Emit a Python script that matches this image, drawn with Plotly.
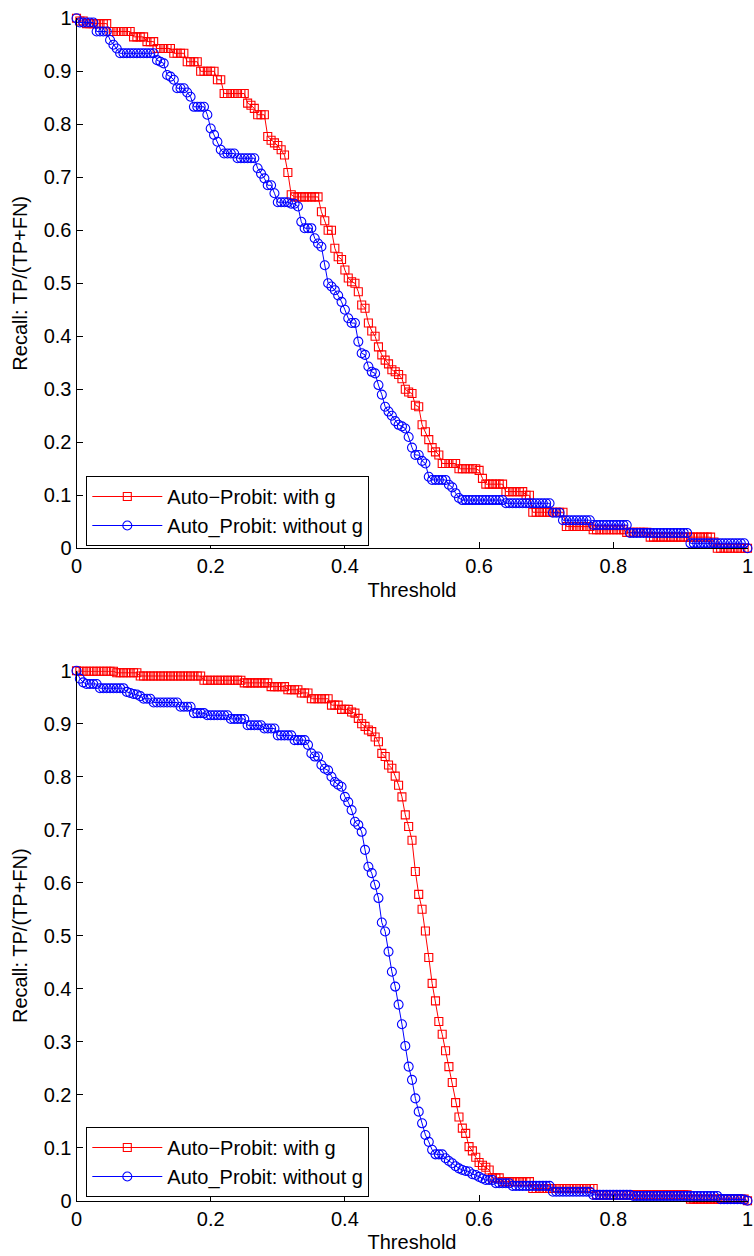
import plotly.graph_objects as go

# ---------------- data ----------------
THRESHOLD = [
    0.000, 0.005, 0.010, 0.015, 0.020, 0.025, 0.030, 0.035, 0.040, 0.045,
    0.050, 0.055, 0.060, 0.065, 0.070, 0.075, 0.080, 0.085, 0.090, 0.095,
    0.100, 0.105, 0.110, 0.115, 0.120, 0.125, 0.130, 0.135, 0.140, 0.145,
    0.150, 0.155, 0.160, 0.165, 0.170, 0.175, 0.180, 0.185, 0.190, 0.195,
    0.200, 0.205, 0.210, 0.215, 0.220, 0.225, 0.230, 0.235, 0.240, 0.245,
    0.250, 0.255, 0.260, 0.265, 0.270, 0.275, 0.280, 0.285, 0.290, 0.295,
    0.300, 0.305, 0.310, 0.315, 0.320, 0.325, 0.330, 0.335, 0.340, 0.345,
    0.350, 0.355, 0.360, 0.365, 0.370, 0.375, 0.380, 0.385, 0.390, 0.395,
    0.400, 0.405, 0.410, 0.415, 0.420, 0.425, 0.430, 0.435, 0.440, 0.445,
    0.450, 0.455, 0.460, 0.465, 0.470, 0.475, 0.480, 0.485, 0.490, 0.495,
    0.500, 0.505, 0.510, 0.515, 0.520, 0.525, 0.530, 0.535, 0.540, 0.545,
    0.550, 0.555, 0.560, 0.565, 0.570, 0.575, 0.580, 0.585, 0.590, 0.595,
    0.600, 0.605, 0.610, 0.615, 0.620, 0.625, 0.630, 0.635, 0.640, 0.645,
    0.650, 0.655, 0.660, 0.665, 0.670, 0.675, 0.680, 0.685, 0.690, 0.695,
    0.700, 0.705, 0.710, 0.715, 0.720, 0.725, 0.730, 0.735, 0.740, 0.745,
    0.750, 0.755, 0.760, 0.765, 0.770, 0.775, 0.780, 0.785, 0.790, 0.795,
    0.800, 0.805, 0.810, 0.815, 0.820, 0.825, 0.830, 0.835, 0.840, 0.845,
    0.850, 0.855, 0.860, 0.865, 0.870, 0.875, 0.880, 0.885, 0.890, 0.895,
    0.900, 0.905, 0.910, 0.915, 0.920, 0.925, 0.930, 0.935, 0.940, 0.945,
    0.950, 0.955, 0.960, 0.965, 0.970, 0.975, 0.980, 0.985, 0.990, 0.995,
    1.000,
]

# Top panel, "Auto-Probit: with g"
TOP_WITH_G = [
    1.0, 0.995, 0.995, 0.99, 0.99, 0.99, 0.99, 0.99, 0.99, 0.99,
    0.975, 0.975, 0.975, 0.975, 0.975, 0.975, 0.975, 0.965, 0.965, 0.965,
    0.965, 0.956, 0.956, 0.956, 0.943, 0.943, 0.943, 0.943, 0.943, 0.934,
    0.934, 0.934, 0.934, 0.918, 0.918, 0.918, 0.918, 0.90, 0.90, 0.90,
    0.90, 0.90, 0.884, 0.884, 0.858, 0.858, 0.858, 0.858, 0.858, 0.858,
    0.858, 0.84, 0.836, 0.83, 0.818, 0.818, 0.818, 0.777, 0.770, 0.765,
    0.760, 0.752, 0.742, 0.709, 0.667, 0.663, 0.663, 0.663, 0.663, 0.663,
    0.663, 0.663, 0.663, 0.635, 0.618, 0.60, 0.60, 0.566, 0.55, 0.545,
    0.525, 0.51, 0.503, 0.50, 0.484, 0.459, 0.453, 0.425, 0.41, 0.40,
    0.38, 0.365, 0.355, 0.348, 0.337, 0.333, 0.328, 0.32, 0.30, 0.295,
    0.292, 0.27, 0.267, 0.233, 0.22, 0.205, 0.19, 0.182, 0.176, 0.16,
    0.16, 0.16, 0.16, 0.16, 0.15, 0.15, 0.15, 0.15, 0.15, 0.15,
    0.147, 0.132, 0.121, 0.121, 0.121, 0.121, 0.121, 0.121, 0.107, 0.107,
    0.107, 0.107, 0.107, 0.107, 0.10, 0.10, 0.068, 0.068, 0.068, 0.068,
    0.068, 0.068, 0.068, 0.068, 0.068, 0.068, 0.041, 0.041, 0.041, 0.041,
    0.041, 0.041, 0.041, 0.041, 0.035, 0.035, 0.035, 0.035, 0.035, 0.035,
    0.035, 0.035, 0.035, 0.035, 0.03, 0.03, 0.03, 0.03, 0.03, 0.03,
    0.03, 0.021, 0.021, 0.021, 0.021, 0.021, 0.021, 0.021, 0.021, 0.021,
    0.021, 0.021, 0.021, 0.021, 0.021, 0.021, 0.021, 0.021, 0.021, 0.021,
    0.012, 0.0, 0.0, 0.0, 0.0, 0.0, 0.0, 0.0, 0.0, 0.0,
    0.0,
]

# Top panel, "Auto_Probit: without g"
TOP_WITHOUT_G = [
    1.0, 0.992, 0.992, 0.992, 0.992, 0.992, 0.975, 0.975, 0.975, 0.975,
    0.959, 0.95, 0.943, 0.934, 0.934, 0.934, 0.934, 0.934, 0.934, 0.934,
    0.934, 0.934, 0.934, 0.934, 0.921, 0.918, 0.915, 0.893, 0.89, 0.884,
    0.868, 0.868, 0.868, 0.86, 0.852, 0.833, 0.833, 0.833, 0.833, 0.818,
    0.792, 0.78, 0.767, 0.752, 0.745, 0.745, 0.745, 0.745, 0.736, 0.736,
    0.736, 0.736, 0.736, 0.736, 0.717, 0.707, 0.698, 0.685, 0.685, 0.67,
    0.653, 0.653, 0.653, 0.653, 0.65, 0.65, 0.645, 0.616, 0.604, 0.604,
    0.604, 0.585, 0.575, 0.569, 0.534, 0.50, 0.494, 0.487, 0.477, 0.465,
    0.45, 0.434, 0.425, 0.425, 0.39, 0.368, 0.365, 0.343, 0.333, 0.33,
    0.308, 0.29, 0.267, 0.258, 0.25, 0.24, 0.233, 0.23, 0.226, 0.21,
    0.19, 0.176, 0.176, 0.165, 0.16, 0.135, 0.129, 0.129, 0.129, 0.129,
    0.129, 0.12, 0.115, 0.104, 0.095, 0.091, 0.091, 0.091, 0.091, 0.091,
    0.091, 0.091, 0.091, 0.091, 0.091, 0.091, 0.091, 0.091, 0.085, 0.085,
    0.085, 0.085, 0.085, 0.085, 0.085, 0.085, 0.085, 0.085, 0.085, 0.085,
    0.085, 0.085, 0.067, 0.067, 0.067, 0.053, 0.053, 0.053, 0.053, 0.053,
    0.053, 0.053, 0.053, 0.053, 0.044, 0.044, 0.044, 0.044, 0.044, 0.044,
    0.044, 0.044, 0.044, 0.044, 0.044, 0.029, 0.029, 0.029, 0.029, 0.029,
    0.029, 0.029, 0.029, 0.029, 0.029, 0.029, 0.029, 0.029, 0.029, 0.029,
    0.029, 0.029, 0.029, 0.0094, 0.0094, 0.0094, 0.0094, 0.0094, 0.0094, 0.0094,
    0.0094, 0.0094, 0.0094, 0.0094, 0.0094, 0.0094, 0.0094, 0.0094, 0.0094, 0.0094,
    0.0,
]

# Bottom panel, "Auto-Probit: with g"
BOTTOM_WITH_G = [
    1.0, 0.999, 0.999, 0.999, 0.999, 0.999, 0.999, 0.999, 0.999, 0.999,
    0.999, 0.999, 0.996, 0.996, 0.996, 0.996, 0.996, 0.996, 0.996, 0.99,
    0.99, 0.99, 0.99, 0.99, 0.99, 0.99, 0.99, 0.99, 0.99, 0.99,
    0.99, 0.99, 0.99, 0.99, 0.99, 0.99, 0.99, 0.99, 0.982, 0.982,
    0.982, 0.982, 0.982, 0.982, 0.982, 0.982, 0.982, 0.982, 0.982, 0.982,
    0.977, 0.977, 0.977, 0.977, 0.977, 0.977, 0.977, 0.977, 0.97, 0.97,
    0.97, 0.97, 0.97, 0.964, 0.964, 0.964, 0.964, 0.958, 0.958, 0.958,
    0.947, 0.947, 0.947, 0.947, 0.947, 0.947, 0.935, 0.935, 0.935, 0.927,
    0.927, 0.927, 0.922, 0.92, 0.91, 0.90, 0.895, 0.888, 0.885, 0.875,
    0.866, 0.844, 0.838, 0.822, 0.816, 0.801, 0.784, 0.762, 0.728, 0.706,
    0.68, 0.621, 0.578, 0.55, 0.509, 0.459, 0.41, 0.377, 0.338, 0.314,
    0.283, 0.253, 0.223, 0.185, 0.158, 0.137, 0.127, 0.102, 0.094, 0.082,
    0.072, 0.067, 0.063, 0.058, 0.043, 0.043, 0.043, 0.036, 0.036, 0.036,
    0.036, 0.036, 0.036, 0.036, 0.036, 0.036, 0.023, 0.023, 0.023, 0.023,
    0.023, 0.023, 0.023, 0.023, 0.023, 0.023, 0.023, 0.023, 0.023, 0.023,
    0.023, 0.023, 0.023, 0.023, 0.023, 0.011, 0.011, 0.011, 0.011, 0.011,
    0.011, 0.011, 0.011, 0.011, 0.011, 0.011, 0.011, 0.011, 0.011, 0.011,
    0.011, 0.011, 0.011, 0.011, 0.011, 0.011, 0.011, 0.011, 0.011, 0.011,
    0.011, 0.011, 0.011, 0.003, 0.003, 0.003, 0.003, 0.003, 0.003, 0.003,
    0.003, 0.003, 0.003, 0.003, 0.003, 0.003, 0.003, 0.003, 0.003, 0.003,
    0.0,
]

# Bottom panel, "Auto_Probit: without g"
BOTTOM_WITHOUT_G = [
    1.0, 0.985, 0.978, 0.975, 0.975, 0.975, 0.975, 0.967, 0.967, 0.967,
    0.967, 0.967, 0.967, 0.967, 0.967, 0.96, 0.958, 0.956, 0.955, 0.952,
    0.947, 0.947, 0.947, 0.94, 0.94, 0.94, 0.94, 0.94, 0.94, 0.94,
    0.94, 0.932, 0.932, 0.932, 0.932, 0.92, 0.92, 0.92, 0.92, 0.916,
    0.916, 0.916, 0.916, 0.916, 0.916, 0.916, 0.909, 0.909, 0.909, 0.909,
    0.909, 0.897, 0.897, 0.897, 0.897, 0.897, 0.891, 0.891, 0.891, 0.891,
    0.878, 0.878, 0.878, 0.878, 0.878, 0.869, 0.869, 0.869, 0.869, 0.86,
    0.844, 0.838, 0.838, 0.822, 0.815, 0.812, 0.80, 0.79, 0.785, 0.781,
    0.762, 0.752, 0.737, 0.715, 0.709, 0.696, 0.662, 0.63, 0.618, 0.596,
    0.571, 0.525, 0.508, 0.47, 0.432, 0.404, 0.37, 0.333, 0.292, 0.253,
    0.228, 0.193, 0.168, 0.146, 0.124, 0.111, 0.096, 0.0875, 0.0875, 0.0875,
    0.08, 0.075, 0.0706, 0.065, 0.061, 0.058, 0.056, 0.055, 0.05, 0.0485,
    0.045, 0.042, 0.039, 0.039, 0.039, 0.033, 0.033, 0.033, 0.033, 0.033,
    0.028, 0.028, 0.028, 0.028, 0.028, 0.028, 0.028, 0.028, 0.028, 0.028,
    0.028, 0.028, 0.017, 0.017, 0.017, 0.017, 0.017, 0.017, 0.017, 0.017,
    0.017, 0.017, 0.017, 0.017, 0.011, 0.011, 0.011, 0.011, 0.011, 0.011,
    0.011, 0.011, 0.011, 0.011, 0.011, 0.011, 0.009, 0.009, 0.009, 0.009,
    0.009, 0.009, 0.009, 0.009, 0.009, 0.009, 0.009, 0.009, 0.009, 0.009,
    0.009, 0.009, 0.009, 0.009, 0.009, 0.009, 0.009, 0.009, 0.009, 0.009,
    0.009, 0.009, 0.003, 0.003, 0.003, 0.003, 0.003, 0.003, 0.003, 0.002,
    0.0,
]

SERIES_NAMES = ["Auto\u2212Probit: with g", "Auto_Probit: without g"]
X_TICKS = [0, 0.2, 0.4, 0.6, 0.8, 1]
Y_TICKS = [0, 0.1, 0.2, 0.3, 0.4, 0.5, 0.6, 0.7, 0.8, 0.9, 1]
X_LABEL = "Threshold"
Y_LABEL = "Recall: TP/(TP+FN)"

for arr in (TOP_WITH_G, TOP_WITHOUT_G, BOTTOM_WITH_G, BOTTOM_WITHOUT_G):
    assert len(arr) == len(THRESHOLD), len(arr)

# ---------------- figure ----------------
W, H = 754, 1256
FONT = "Liberation Sans, Arial, Helvetica, sans-serif"
RED, BLUE = "#ff0000", "#0000ff"

fig = go.Figure()

panels = [
    (TOP_WITH_G, TOP_WITHOUT_G, "x", "y", "legend"),
    (BOTTOM_WITH_G, BOTTOM_WITHOUT_G, "x2", "y2", "legend2"),
]
for with_g, without_g, xa, ya, lg in panels:
    fig.add_trace(go.Scatter(
        x=THRESHOLD, y=with_g, mode="lines+markers", name=SERIES_NAMES[0],
        xaxis=xa, yaxis=ya, legend=lg, cliponaxis=False,
        line=dict(color=RED, width=1),
        marker=dict(symbol="square-open", size=8, color=RED, line=dict(width=1.1, color=RED)),
    ))
    fig.add_trace(go.Scatter(
        x=THRESHOLD, y=without_g, mode="lines+markers", name=SERIES_NAMES[1],
        xaxis=xa, yaxis=ya, legend=lg, cliponaxis=False,
        line=dict(color=BLUE, width=1),
        marker=dict(symbol="circle-open", size=9, color=BLUE, line=dict(width=1.1, color=BLUE)),
    ))

x_dom = [76.5 / W, 747.5 / W]
top_dom = [1 - 548.3 / H, 1 - 18.3 / H]
bot_dom = [1 - 1200.7 / H, 1 - 670.7 / H]

axis_common = dict(
    showline=True, linecolor="black", linewidth=1,
    ticks="inside", ticklen=6, tickwidth=1, tickcolor="black",
    showgrid=False, zeroline=False, mirror=False,
    tickfont=dict(family=FONT, size=20, color="black"),
    automargin=False,
)

def xaxis(anchor):
    return dict(axis_common, domain=x_dom, anchor=anchor, range=[0, 1],
                tickvals=X_TICKS, ticktext=[f"{v:g}" for v in X_TICKS],
                title=dict(text=X_LABEL, font=dict(family=FONT, size=20, color="black"), standoff=6))

def yaxis(anchor, dom):
    return dict(axis_common, domain=dom, anchor=anchor, range=[0, 1],
                tickvals=Y_TICKS, ticktext=[f"{v:g}" for v in Y_TICKS],
                title=dict(text=Y_LABEL, font=dict(family=FONT, size=20, color="black"), standoff=10))

legend_common = dict(
    xanchor="left", yanchor="bottom",
    bgcolor="white", bordercolor="black", borderwidth=1,
    font=dict(family=FONT, size=20, color="black"),
    itemwidth=70, tracegroupgap=0,
)

fig.update_layout(
    width=W, height=H,
    margin=dict(l=0, r=0, t=0, b=0),
    paper_bgcolor="white", plot_bgcolor="white",
    font=dict(family=FONT, size=20, color="black"),
    xaxis=xaxis("y"), yaxis=yaxis("x", top_dom),
    xaxis2=xaxis("y2"), yaxis2=yaxis("x2", bot_dom),
    legend=dict(legend_common, x=86.3 / W, y=1 - 546.0 / H),
    legend2=dict(legend_common, x=86.3 / W, y=1 - 1197.0 / H),
    showlegend=True,
)

fig.write_html("out.html")
